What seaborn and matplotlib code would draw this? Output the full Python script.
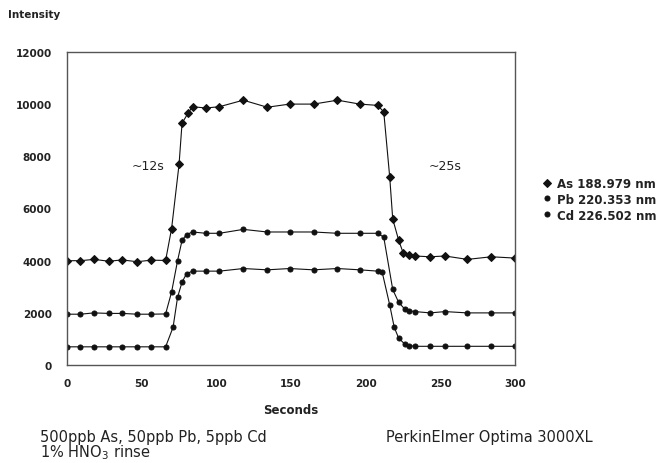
import matplotlib
matplotlib.use("Agg")
import matplotlib.pyplot as plt
import seaborn as sns
import pandas as pd

series_names = ["As 188.979 nm", "Pb 220.353 nm", "Cd 226.502 nm"]

as_time = [0, 9, 18, 28, 37, 47, 56, 66, 70, 75, 77, 81, 84, 93, 102, 118, 134, 149, 165, 181, 196,
           208, 212, 216, 218, 222, 225, 229, 233, 243, 253, 268, 284, 300]
as_vals = [4000, 4000, 4050, 3980, 4030, 3960, 4020, 4010, 5230, 7690, 9270, 9650, 9900, 9850, 9900,
           10150, 9880, 10000, 10000, 10150, 10000, 9950, 9700, 7200, 5600, 4780, 4300, 4220, 4180,
           4150, 4180, 4050, 4150, 4100]

pb_time = [0, 9, 18, 28, 37, 47, 56, 66, 70, 74, 77, 80, 84, 93, 102, 118, 134, 149, 165, 181, 196,
           208, 212, 218, 222, 226, 229, 233, 243, 253, 268, 284, 300]
pb_vals = [1950, 1950, 2000, 1980, 1980, 1950, 1950, 1960, 2800, 4000, 4780, 5000, 5100, 5050, 5050,
           5200, 5100, 5100, 5100, 5050, 5050, 5050, 4900, 2900, 2400, 2150, 2080, 2050, 2000, 2050,
           2000, 2000, 2000]

cd_time = [0, 9, 18, 28, 37, 47, 56, 66, 71, 74, 77, 80, 84, 93, 102, 118, 134, 149, 165, 181, 196,
           208, 211, 216, 219, 222, 226, 229, 233, 243, 253, 268, 284, 300]
cd_vals = [700, 700, 700, 700, 700, 700, 700, 700, 1450, 2600, 3180, 3500, 3600, 3600, 3600, 3700,
           3650, 3700, 3650, 3700, 3650, 3600, 3550, 2300, 1450, 1030, 810, 750, 720, 720, 720, 720,
           720, 720]

x_ticks = [0, 50, 100, 150, 200, 250, 300]
y_ticks = [0, 2000, 4000, 6000, 8000, 10000, 12000]

frames = []
for name, t, v in zip(series_names, [as_time, pb_time, cd_time], [as_vals, pb_vals, cd_vals]):
    frames.append(pd.DataFrame({"Seconds": t, "Intensity": v, "Element": name}))
df = pd.concat(frames, ignore_index=True)

sns.set_style("white")
plt.rcParams["font.family"] = ["DejaVu Sans"]

fig = plt.figure(figsize=(6.7, 4.64), dpi=100)
ax = fig.add_axes([0.1, 0.211, 0.669, 0.675])

sns.lineplot(data=df, x="Seconds", y="Intensity", hue="Element", style="Element",
             palette=["#111111", "#111111", "#111111"], markers=["D", "o", "o"], dashes=False,
             markersize=3.6, linewidth=0.8, sort=False, estimator=None, ax=ax,
             markeredgecolor="#111111")

ax.set_xlim(0, 300)
ax.set_ylim(0, 12000)
ax.set_xticks(x_ticks)
ax.set_yticks(y_ticks)
ax.set_xticklabels([str(x) for x in x_ticks], fontsize=7.5, fontweight="bold", color="#222222")
ax.set_yticklabels([str(y) for y in y_ticks], fontsize=7.5, fontweight="bold", color="#222222")
ax.tick_params(axis="both", direction="in", length=3, width=0.8, color="#444444")
ax.tick_params(axis="x", pad=9)
ax.tick_params(axis="y", pad=11)
for s in ax.spines.values():
    s.set_color("#555555")
    s.set_linewidth(1.0)

ax.set_xlabel("Seconds", fontsize=8.5, fontweight="bold", labelpad=11, color="#222222")
ax.set_ylabel("")
fig.text(0.012, 0.967, "Intensity", fontsize=7.5, fontweight="bold", color="#222222",
         ha="left", va="center")

ax.text(54, 7650, "~12s", fontsize=9, ha="center", va="center", color="#222222")
ax.text(253, 7650, "~25s", fontsize=9, ha="center", va="center", color="#222222")

leg = ax.legend(loc="center left", bbox_to_anchor=(1.05, 0.53), frameon=False,
                fontsize=8.5, handlelength=0.8, handletextpad=0.4, labelspacing=0.25,
                borderaxespad=0)
for txt in leg.get_texts():
    txt.set_fontweight("bold")
    txt.set_color("#222222")
for h in leg.legend_handles:
    h.set_linewidth(0)

fig.text(0.06, 0.058, "500ppb As, 50ppb Pb, 5ppb Cd", fontsize=10.5, ha="left", va="center",
         color="#222222")
fig.text(0.06, 0.024, "1% HNO$_3$ rinse", fontsize=10.5, ha="left", va="center", color="#222222")
fig.text(0.576, 0.058, "PerkinElmer Optima 3000XL", fontsize=10.5, ha="left", va="center",
         color="#222222")

fig.savefig("out.png", dpi=100)
